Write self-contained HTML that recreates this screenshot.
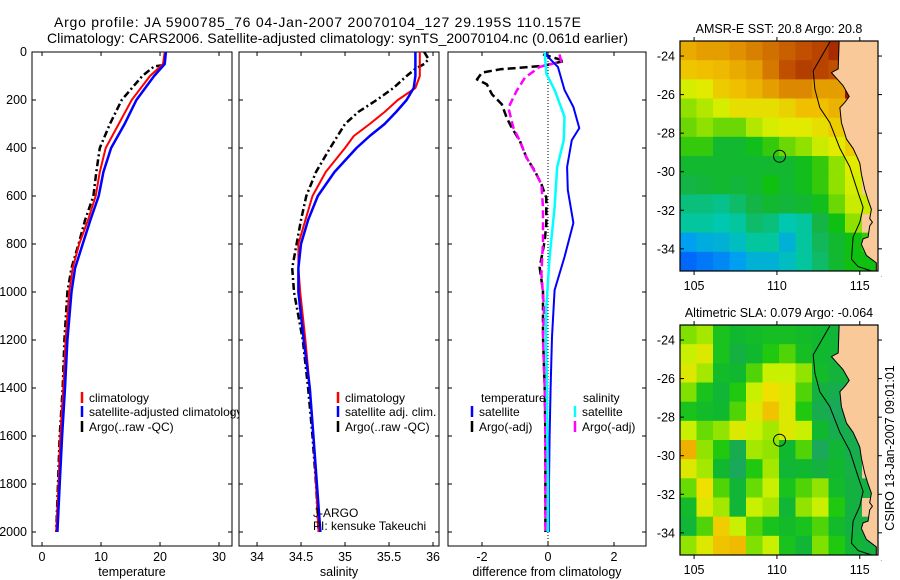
<!DOCTYPE html>
<html><head><meta charset="utf-8"><style>
html,body{margin:0;padding:0;background:#fff;}
svg{display:block;font-family:"Liberation Sans",sans-serif;}
</style></head><body>
<svg id="fig" width="900" height="580" viewBox="0 0 900 580" xmlns="http://www.w3.org/2000/svg">
<text x="54" y="27" font-size="14" textLength="527">Argo profile: JA 5900785_76 04-Jan-2007 20070104_127 29.195S 110.157E</text>
<text x="47" y="43" font-size="14" textLength="581">Climatology: CARS2006. Satellite-adjusted climatology: synTS_20070104.nc (0.061d earlier)</text>
<g id="g1"></g>
<g id="g2"></g>
<g id="g3"></g>
<g id="m1"></g>
<g id="m2"></g>
<text x="0" y="0" font-size="12.5" text-anchor="middle" transform="translate(894,448) rotate(-90)">CSIRO 13-Jan-2007 09:01:01</text>
</svg>
<script>
// ---- profile data ----
const depthTicks = [0,200,400,600,800,1000,1200,1400,1600,1800,2000];
const tDepth = [0,50,100,200,300,400,500,600,700,800,900,1000,1200,1400,1600,1800,2000];
const tClim = [20.8,20.5,18.3,15.2,13,10.8,9.8,9.1,7.8,6.3,5.2,4.6,4.0,3.6,3.1,2.8,2.4];
const tSat = [21,20.8,19,16,14,11.7,10.4,9.6,8.2,6.9,5.6,5.0,4.3,3.9,3.4,3.0,2.6];
const tArgoDepth = [55,60,100,200,300,400,500,600,700,800,900,1000,1200,1400,1600,1800,2000];
const tArgo = [20.5,19,17,13.5,11.5,9.8,9.2,8.7,7.3,6.2,5.0,4.3,3.8,3.5,3.0,2.7,2.4];
const tTicks = [0,10,20,30];

const sDepth = [0,100,150,200,250,300,350,400,500,600,700,800,900,1000,1200,1400,1600,1800,2000];
const sClim = [35.85,35.85,35.8,35.6,35.45,35.28,35.1,35.0,34.78,34.63,34.55,34.47,34.47,34.49,34.55,34.6,34.64,34.67,34.7];
const sSat = [35.8,35.8,35.78,35.7,35.58,35.45,35.28,35.13,34.88,34.69,34.58,34.5,34.47,34.47,34.53,34.6,34.64,34.68,34.72];
const sArgoDepth = [0,30,50,70,100,150,200,250,300,400,500,600,700,800,900,1000,1200,1400,1600,1800,2000];
const sArgo = [35.9,35.95,35.9,35.8,35.7,35.55,35.36,35.15,35.0,34.83,34.67,34.56,34.5,34.45,34.4,34.42,34.52,34.58,34.63,34.67,34.7];
const sTicks = [34,34.5,35,35.5,36];

const dTempSatDepth = [0,12,62,158,229,317,367,479,575,712,854,992,1187,1400,1600,1800,2000];
const dTempSat = [-0.05,-0.06,0.3,0.5,0.77,0.95,0.72,0.58,0.6,0.77,0.5,0.2,0.12,0.08,0.05,0.03,0.03];
const dSalSatDepth = [0,90,158,270,367,479,646,854,1062,1187,1400,1600,1800,2000];
const dSalSat = [-0.1,-0.05,0.2,0.5,0.48,0.28,0.2,0.05,-0.05,-0.06,-0.03,-0.02,0,0];
const dTempArgoDepth = [10,37,58,72,86,114,135,176,218,274,315,371,440,496,551,607,718,787,898,996,1187,1400,1600,1800,2000];
const dTempArgo = [-0.15,0.5,-0.15,-1.45,-2.0,-2.15,-1.85,-1.7,-1.4,-1.25,-1.1,-0.85,-0.65,-0.4,-0.2,-0.05,-0.05,-0.1,-0.25,-0.15,-0.15,-0.1,-0.08,-0.08,-0.08];
const dSalArgoDepth = [10,40,62,107,162,232,315,371,440,510,551,649,787,926,1065,1187,1400,1600,1800,2000];
const dSalArgo = [0.35,0.4,-0.25,-0.7,-0.95,-1.2,-1.05,-0.85,-0.65,-0.35,-0.2,-0.15,-0.15,-0.2,-0.12,-0.15,-0.1,-0.08,-0.08,-0.08];
const dTicks = [-2,0,2];

// ---- map data (rows north->south, cols west->east; null = land) ----
const latTicks = [-24,-26,-28,-30,-32,-34];
const lonTicks = [105,110,115];
const sstGrid = [
[23.8,24,24,24.2,24.4,24.6,24.8,25,25.2,25.6,null,null],
[23.4,23.5,23.6,23.8,24,24.5,25,25.3,25.2,25,26,null],
[22.6,22.8,23.3,23.5,23.7,24,24.3,24.3,24,24,26,null],
[22,22.3,22.6,23,23,23,23.2,23.5,23.5,23.7,23.8,null],
[21.8,22,21.8,21.8,22.3,22.6,22.8,22.8,23,23.3,23.6,null],
[21.5,21.5,21,21,21.2,21.5,21.8,22,22.5,22.8,23.3,null],
[21,21,21,21,21,21,21,21.2,21.5,22,22.8,null],
[20.8,20.9,21,20.9,21,21.3,21,21.2,21.5,22,22.6,null],
[20.5,20.5,20.4,20.6,20.8,21,20.9,21,21.2,21.8,22.5,22.5],
[20.3,20.3,20.2,20.3,20.6,20.5,20.2,20.3,20.8,21.3,22,null],
[19.5,19.7,19.8,20,20.3,20.3,19.8,20.3,20.7,21,21.3,21.5],
[18.8,19,19.2,19.5,19.8,19.8,20,20.3,20.6,21,21.3,21.3]];
const slaGrid = [
[0.04,0.06,-0.02,-0.05,-0.04,-0.03,-0.03,-0.04,-0.05,-0.06,null,null],
[0.08,0.1,-0.02,-0.08,-0.05,0,0.02,-0.03,-0.05,-0.06,-0.05,null],
[0.1,0.06,-0.04,-0.05,0.02,0.08,0.08,0.05,-0.04,-0.07,-0.06,null],
[0.04,-0.02,-0.06,0,0.08,0.12,0.1,0.02,-0.08,-0.1,-0.08,null],
[-0.02,-0.04,-0.05,0.02,0.1,0.15,0.1,0,-0.1,-0.12,-0.1,null],
[0.08,0.03,0.05,0.1,0.08,0.06,0.1,0.08,-0.05,-0.1,-0.1,null],
[0.17,0.05,0,-0.1,0.06,0.05,-0.05,0.02,-0.12,-0.06,-0.1,null],
[0.1,0.06,-0.05,-0.12,0,0.06,-0.06,-0.05,-0.08,-0.05,-0.09,null],
[0.03,0.12,0.02,-0.06,0.03,0.08,-0.02,0.02,0.05,-0.04,-0.08,-0.08],
[-0.04,0.1,0.06,-0.06,0.08,0.06,-0.06,0.05,0.08,0,-0.08,null],
[-0.06,0.02,0.14,0.08,0.02,-0.02,-0.04,-0.02,0.02,-0.04,-0.08,-0.08],
[0.05,0.1,0.15,0.16,0.04,0.08,-0.02,-0.06,0.04,0,-0.06,-0.08]];
const floatLon = 110.157, floatLat = -29.195;
const coastLon = [113.75,113.7,113.29,113.59,113.99,114.36,114.10,113.80,113.89,114.20,114.6,114.8,115.0,115.1,115.3,115.5,115.7,115.6,115.76,115.6,115.5,115.2,115.1,115.4,116.0,116.0];
const coastLat = [-23.27,-24.67,-24.86,-25.15,-25.53,-26.1,-26.4,-26.68,-27.45,-28.31,-28.79,-29.17,-29.56,-30.13,-30.9,-31.47,-31.95,-32.43,-32.62,-32.81,-33.39,-33.48,-33.77,-34.34,-34.73,-35.3];
const shelfLon = [113.19,112.19,112.29,112.59,113.19,113.8,114.4,114.9,115.2,115.0,114.6,114.5,114.9,115.9];
const shelfLat = [-23.27,-24.77,-25.72,-26.68,-27.45,-28.79,-29.75,-31.09,-31.85,-32.62,-33.39,-34.54,-34.92,-35.2];

const NS='http://www.w3.org/2000/svg';
function mk(parent,tag,attrs,txt){const e=document.createElementNS(NS,tag);for(const k in attrs)e.setAttribute(k,attrs[k]);if(txt!==undefined)e.textContent=txt;parent.appendChild(e);return e;}
const Y0=52, YS=0.24, PB=546;
const yD = d => Y0 + d*YS;

function panel(g, x0, x1, vmin, vmax, ticks, tickFmt, xlabel, lname){
  const xs = v => x0 + (v-vmin)/(vmax-vmin)*(x1-x0);
  const bg = mk(g,'rect',{x:x0,y:Y0,width:x1-x0,height:PB-Y0,fill:'#fff',stroke:'#000','stroke-width':1});
  
  
  ticks.forEach(t=>{
    const X=xs(t);
    mk(g,'line',{x1:X,x2:X,y1:Y0,y2:Y0+4,stroke:'#000'});
    mk(g,'line',{x1:X,x2:X,y1:PB,y2:PB-4,stroke:'#000'});
    const tl=mk(g,'text',{x:X,y:PB+15,'font-size':12.5,'text-anchor':'middle'},tickFmt(t));
    
    
  });
  depthTicks.forEach(d=>{
    mk(g,'line',{x1:x0,x2:x0+4,y1:yD(d),y2:yD(d),stroke:'#000'});
    mk(g,'line',{x1:x1,x2:x1-4,y1:yD(d),y2:yD(d),stroke:'#000'});
  });
  const xl=mk(g,'text',{x:(x0+x1)/2,y:PB+30,'font-size':12.5,'text-anchor':'middle'},xlabel);
  
  
  return xs;
}
function line(g, xs, vals, depths, color, w, dash, name){
  const pts = vals.map((v,i)=>xs(v).toFixed(1)+','+yD(depths[i]).toFixed(1)).join(' ');
  const p = mk(g,'polyline',{points:pts,fill:'none',stroke:color,'stroke-width':w,'stroke-dasharray':dash||'none','stroke-linejoin':'round'});
  
  
}
function legend(g, x, y, color, text, name){
  mk(g,'line',{x1:x,x2:x,y1:y-6,y2:y+5,stroke:color,'stroke-width':2.5});
  const t = mk(g,'text',{x:x+7,y:y+4,'font-size':12},text);
  
  
}

// Panel 1
const g1=document.getElementById('g1');
const x1s = panel(g1,32,232,-1.7,32.2,tTicks,t=>String(t),'temperature','temperature');
depthTicks.forEach(d=>{
  const t=mk(g1,'text',{x:27,y:yD(d)+4,'font-size':12.5,'text-anchor':'end'},String(d));
  
  
});
line(g1,x1s,tArgo,tArgoDepth,'#000',2.5,'7,3,2,3','temp-argo-line');
line(g1,x1s,tClim,tDepth,'#f00',2,null,'temp-climatology-line');
line(g1,x1s,tSat,tDepth,'#00f',2.5,null,'temp-satellite-line');
legend(g1,82,398,'#f00','climatology','legend-climatology');
legend(g1,82,412,'#00f','satellite-adjusted climatology','legend-satellite-adjusted');
legend(g1,82,427,'#000','Argo(..raw -QC)','legend-argo');

// Panel 2
const g2=document.getElementById('g2');
const x2s = panel(g2,239,439,33.795,36.068,sTicks,t=>String(t),'salinity','salinity');
line(g2,x2s,sArgo,sArgoDepth,'#000',2.5,'7,3,2,3','sal-argo-line');
line(g2,x2s,sClim,sDepth,'#f00',2,null,'sal-climatology-line');
line(g2,x2s,sSat,sDepth,'#00f',2.5,null,'sal-satellite-line');
legend(g2,338,398,'#f00','climatology','legend-climatology-2');
legend(g2,338,412,'#00f','satellite adj. clim.','legend-satellite-2');
legend(g2,338,427,'#000','Argo(..raw -QC)','legend-argo-2');
mk(g2,'text',{x:313,y:517,'font-size':12},'J-ARGO');
mk(g2,'text',{x:313,y:530,'font-size':12},'PI: kensuke Takeuchi');

// Panel 3
const g3=document.getElementById('g3');
const x3s = panel(g3,448,646,-3.03,2.97,dTicks,t=>String(t),'difference from climatology','difference');
mk(g3,'line',{x1:x3s(0),x2:x3s(0),y1:Y0,y2:PB,stroke:'#000','stroke-width':1,'stroke-dasharray':'1,2'});
line(g3,x3s,dTempArgo,dTempArgoDepth,'#000',2.5,'8,4','diff-temp-argo-line');
line(g3,x3s,dSalArgo,dSalArgoDepth,'#f0f',2.5,'8,4','diff-sal-argo-line');
line(g3,x3s,dTempSat,dTempSatDepth,'#00f',2,null,'diff-temp-satellite-line');
line(g3,x3s,dSalSat,dSalSatDepth,'#0ff',2.5,null,'diff-sal-satellite-line');
mk(g3,'text',{x:481,y:402,'font-size':12},'temperature');
mk(g3,'text',{x:583,y:402,'font-size':12},'salinity');
legend(g3,472,412,'#00f','satellite','legend-temp-satellite');
legend(g3,472,427,'#000','Argo(-adj)','legend-temp-argo');
legend(g3,575,412,'#0ff','satellite','legend-sal-satellite');
legend(g3,575,427,'#f0f','Argo(-adj)','legend-sal-argo');

// ---- maps ----
function toRgb(c){return 'rgb('+c.join(',')+')';}
function ramp(stops, v){
  if(v<=stops[0][0]) return toRgb(stops[0][1]);
  for(let i=1;i<stops.length;i++){
    if(v<=stops[i][0]){
      const a=stops[i-1],b=stops[i],f=(v-a[0])/(b[0]-a[0]);
      const c=a[1].map((x,k)=>Math.round(x+(b[1][k]-x)*f));
      return toRgb(c);
    }
  }
  return toRgb(stops[stops.length-1][1]);
}
const sstStops=[[18.5,[0,80,255]],[19.5,[0,160,240]],[20.2,[0,200,176]],[20.8,[20,180,70]],[21.3,[16,192,16]],[22,[144,224,0]],[22.7,[224,240,0]],[23.5,[240,192,0]],[24.2,[224,144,0]],[25,[192,80,0]],[25.8,[160,32,0]],[26.5,[128,0,0]]];
const slaStops=[[-0.12,[26,168,90]],[-0.05,[16,184,48]],[0,[32,200,16]],[0.04,[128,224,0]],[0.08,[200,240,0]],[0.12,[240,224,0]],[0.17,[240,176,0]]];

function drawMap(g, top, bottom, grid, stops, title, lname){
  const L=680,R=878, lonMin=104.15, lonMax=116.1, latTop=-23.22, latBot=-35.15;
  const lx = lon => L+(lon-lonMin)/(lonMax-lonMin)*(R-L);
  const ly = lat => top+(latTop-lat)/(latTop-latBot)*(bottom-top);
  const tt=mk(g,'text',{x:(L+R)/2,y:top-8,'font-size':12.5,'text-anchor':'middle'},title);
  
  
  mk(g,'rect',{x:L,y:top,width:R-L,height:bottom-top,fill:'#f9c99a'});
  const nr=grid.length, nc=grid[0].length;
  const dLon=(lonMax-lonMin)/nc, dLat=(latTop-latBot)/nr;
  grid.forEach((row,r)=>row.forEach((v,c)=>{
    if(v===null) return;
    const xa=lx(lonMin+c*dLon), xb=lx(lonMin+(c+1)*dLon), ya=ly(latTop-r*dLat), yb=ly(latTop-(r+1)*dLat);
    const cell=mk(g,'rect',{x:xa.toFixed(2),y:ya.toFixed(2),width:(xb-xa+0.5).toFixed(2),height:(yb-ya+0.5).toFixed(2),fill:ramp(stops,v)});
    
    
  }));
  let d='M'+coastLon.map((lo,i)=>lx(lo).toFixed(1)+','+ly(coastLat[i]).toFixed(1)).join(' L');
  d+=' L'+lx(116.3)+','+ly(-35.4)+' L'+lx(116.3)+','+ly(-23)+' L'+lx(113.75)+','+ly(-23)+' Z';
  const land=mk(g,'path',{d:d,fill:'#f9c99a',stroke:'#000','stroke-width':1});
  
  
  const shelf=mk(g,'polyline',{points:shelfLon.map((lo,i)=>lx(lo).toFixed(1)+','+ly(shelfLat[i]).toFixed(1)).join(' '),fill:'none',stroke:'#000','stroke-width':1});
  
  
  mk(g,'rect',{x:R,y:top-1,width:12,height:bottom-top+2,fill:'#fff'});
  mk(g,'rect',{x:L,y:top-6,width:R-L+12,height:6,fill:'#fff'});
  mk(g,'rect',{x:L,y:bottom,width:R-L+12,height:5,fill:'#fff'});
  mk(g,'rect',{x:L,y:top,width:R-L,height:bottom-top,fill:'none',stroke:'#000','stroke-width':1.2});
  const mark=mk(g,'circle',{cx:lx(floatLon),cy:ly(floatLat),r:6,fill:'none',stroke:'#000','stroke-width':1});
  
  
  latTicks.forEach(t=>{
    const Y=ly(t);
    mk(g,'line',{x1:L,x2:L+4,y1:Y,y2:Y,stroke:'#000'});
    mk(g,'line',{x1:R,x2:R+4,y1:Y,y2:Y,stroke:'#000'});
    const lt=mk(g,'text',{x:L-5,y:Y+4.5,'font-size':12.5,'text-anchor':'end'},'-'+Math.abs(t));
    
    
  });
  lonTicks.forEach(t=>{
    const X=lx(t);
    mk(g,'line',{x1:X,x2:X,y1:bottom,y2:bottom+4,stroke:'#000'});
    mk(g,'line',{x1:X,x2:X,y1:top,y2:top-4,stroke:'#000'});
    const lt=mk(g,'text',{x:X,y:bottom+19,'font-size':12.5,'text-anchor':'middle'},String(t));
    
    
  });
}
drawMap(document.getElementById('m1'),41,271,sstGrid,sstStops,'AMSR-E SST: 20.8 Argo: 20.8','sst-map');
drawMap(document.getElementById('m2'),325,555,slaGrid,slaStops,'Altimetric SLA: 0.079 Argo: -0.064','sla-map');
</script>
</body></html>
